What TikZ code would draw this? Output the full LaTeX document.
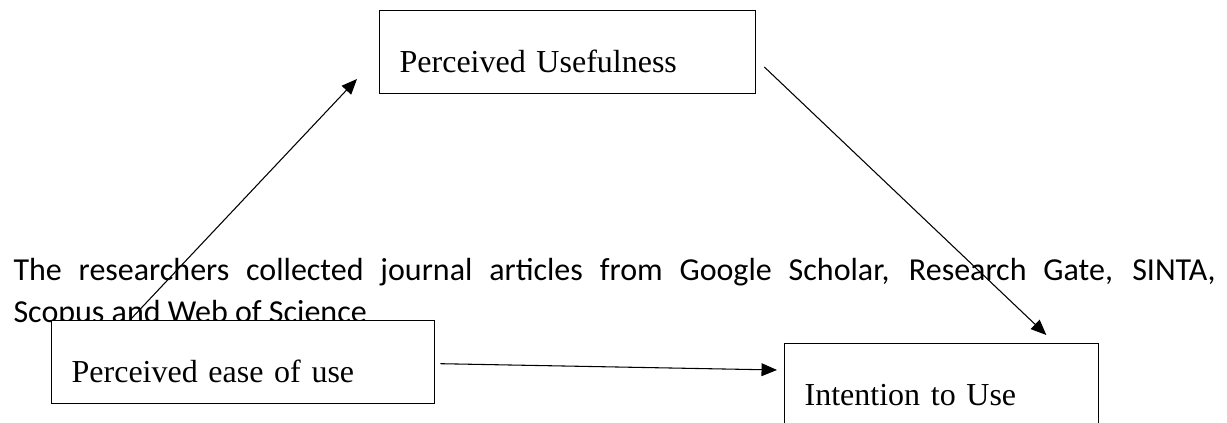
\documentclass[tikz,border=0pt]{standalone}
\usepackage{fontspec}
\setmainfont{Liberation Serif}
\newfontfamily\bodyfont{Carlito}
\usetikzlibrary{arrows.meta,backgrounds}

\begin{document}
\begin{tikzpicture}[
    x=0.375pt, y=-0.375pt,
    >={Triangle[length=5.8pt,width=4.8pt]},
    box/.style={rectangle, draw, fill=white, line width=0.5pt, anchor=north west,
      inner xsep=7.5pt, inner ysep=0pt, align=left,
      text height=23.25pt, text depth=7.9pt, font=\fontsize{12pt}{14pt}\selectfont},
    link/.style={->, line width=0.4pt}
  ]
  \useasboundingbox (0,0) rectangle (1227,423);
  \clip (0,0) rectangle (1227,423);

  % Nodes
  \node[box, text width=126pt] (usefulness) at (379,10) {Perceived Usefulness};
  \node[box, text width=128.6pt] (easeOfUse) at (51,320) {Perceived ease of use};
  \node[box, text width=102.75pt, text depth=30pt] (intention) at (784,343) {Intention to Use};

  \begin{pgfonlayer}{background}
    % Text behind the boxes
    \node[anchor=north west, inner sep=0pt, text width=450.75pt, align=justify,
      font=\bodyfont\fontsize{12pt}{15.75pt}\selectfont] (para) at (13,258)
      {The researchers collected journal articles from Google Scholar, Research Gate, SINTA,\linebreak Scopus and Web of Science};

    % Edges
    \draw[link] ([shift={(79,0)}]easeOfUse.north west) -- ([shift={(-22,69)}]usefulness.north west);
    \draw[link] ([shift={(8,57)}]usefulness.north east) -- ([shift={(-53,-8)}]intention.north east);
    \draw[link] ([shift={(5,1.5)}]easeOfUse.east) -- ([shift={(-7,27)}]intention.north west);
  \end{pgfonlayer}

\end{tikzpicture}
\end{document}
